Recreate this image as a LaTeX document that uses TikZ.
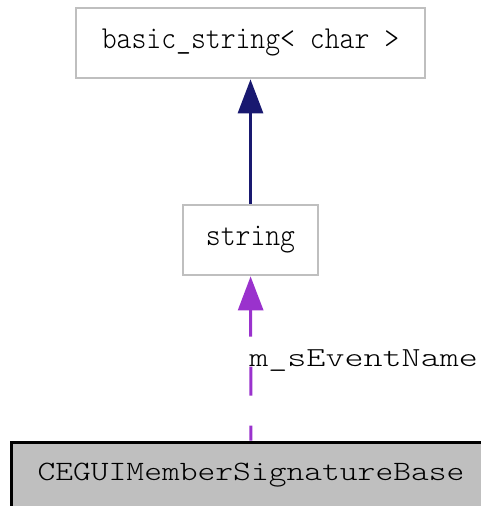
\documentclass[tikz,border=0pt]{standalone}
\usepackage{fontspec}
\newfontfamily\classfont[FakeStretch=0.885]{Latin Modern Mono Light}
\newfontfamily\basefont[FakeStretch=1.21]{Latin Modern Mono Light}
\newfontfamily\memberfont[FakeStretch=1.32]{Latin Modern Mono Light}
\usetikzlibrary{arrows.meta}

\definecolor{boxgray}{HTML}{BFBFBF}
\definecolor{inhblue}{HTML}{191970}
\definecolor{usepurple}{HTML}{9A32CD}

\tikzset{
  classbox/.style={draw=boxgray, fill=white, line width=2.7pt, inner sep=0pt,
    font=\classfont\fontsize{32}{32}\selectfont},
  basebox/.style={draw=black, fill=boxgray, line width=3pt, inner sep=0pt,
    font=\basefont\fontsize{28}{28}\selectfont},
  inherit/.style={draw=inhblue, line width=3pt,
    -{Triangle[length=34pt,width=25pt]}},
  usage/.style={draw=usepurple, line width=3pt, dash pattern=on 29pt off 30pt,
    dash phase=14pt, -{Triangle[length=34pt,width=25pt]}},
  memberlabel/.style={inner sep=0pt, text=black, anchor=base west,
    font=\memberfont\fontsize{27.5}{27.5}\selectfont}
}

\begin{document}
\begin{tikzpicture}[x=1pt,y=-1pt]

\useasboundingbox (0,0) rectangle (481,506);
\clip (0,0) rectangle (481,506);

% classes
\node[classbox, minimum width=349pt, minimum height=70pt] (basicstr) at (250.5,43) {basic\_string< char >};
\node[classbox, minimum width=135pt, minimum height=70pt] (str) at (250.5,240) {string};
\node[basebox, minimum width=480pt, minimum height=66pt] (sigbase) at (251,475) {CEGUIMemberSignatureBase};

% edges
\draw[inherit] (str) -- (basicstr);
\draw[usage] (sigbase) -- (str)
    node[memberlabel, pos=0.449, xshift=-3pt] (evname) {m\_sEventName};

\end{tikzpicture}
\end{document}
